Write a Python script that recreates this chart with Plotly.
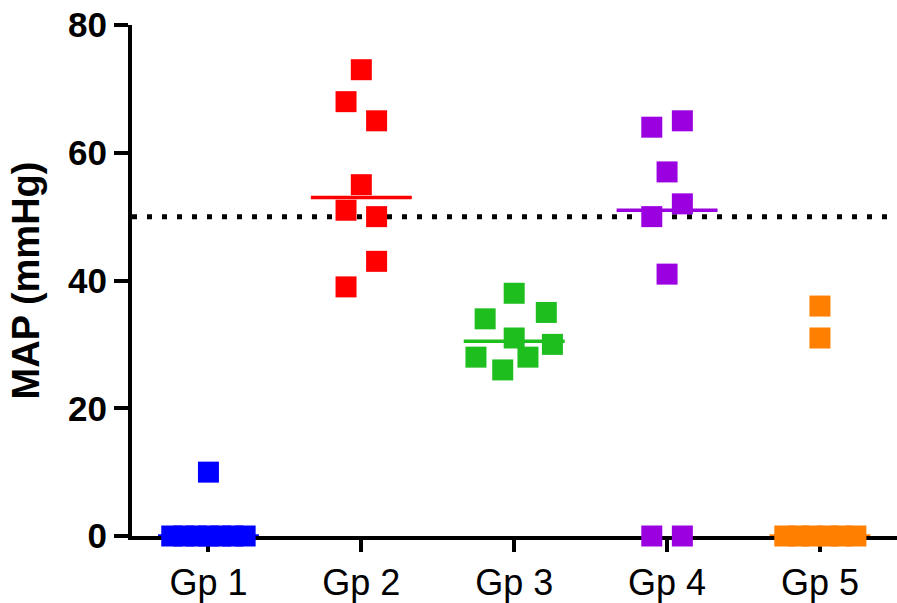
import numpy as np
import plotly.graph_objects as go

groups = ["Gp 1", "Gp 2", "Gp 3", "Gp 4", "Gp 5"]
colors = ["#0000FF", "#FF0000", "#1EBE1E", "#9A00E0", "#FF8000"]

gp1_values = [10, 0, 0, 0, 0, 0, 0, 0]
gp1_offsets = [0.0, -0.24, -0.16, -0.08, 0.0, 0.08, 0.16, 0.24]

gp2_values = [73, 68, 65, 55, 51, 50, 43, 39]
gp2_offsets = [0.0, -0.1, 0.1, 0.0, -0.1, 0.1, 0.1, -0.1]

gp3_values = [38, 34, 35, 31, 30, 28, 28, 26]
gp3_offsets = [0.0, -0.19, 0.21, 0.0, 0.25, -0.25, 0.09, -0.075]

gp4_values = [64, 65, 57, 52, 50, 41, 0, 0]
gp4_offsets = [-0.1, 0.1, 0.0, 0.1, -0.1, 0.0, -0.1, 0.1]

gp5_values = [36, 31, 0, 0, 0, 0, 0, 0]
gp5_offsets = [0.0, 0.0, -0.23, -0.14, -0.05, 0.05, 0.14, 0.235]

threshold = 50
y_ticks = [0, 20, 40, 60, 80]

all_values = [gp1_values, gp2_values, gp3_values, gp4_values, gp5_values]
all_offsets = [gp1_offsets, gp2_offsets, gp3_offsets, gp4_offsets, gp5_offsets]

fig = go.Figure()

# median lines (under the points)
for i, (vals, col) in enumerate(zip(all_values, colors)):
    pos = i + 1
    med = float(np.median(vals))
    fig.add_trace(go.Scatter(
        x=[pos - 0.33, pos + 0.33], y=[med, med], mode="lines",
        line=dict(color=col, width=3.5), showlegend=False,
        hoverinfo="skip", cliponaxis=False))

for i, (vals, offs, col) in enumerate(zip(all_values, all_offsets, colors)):
    pos = i + 1
    fig.add_trace(go.Scatter(
        x=[pos + o for o in offs], y=vals, mode="markers",
        marker=dict(symbol="square", size=21, color=col, line=dict(width=0)),
        showlegend=False, cliponaxis=False, name=groups[i]))

fig.add_shape(type="line", xref="paper", yref="y", x0=0, x1=1,
              y0=threshold, y1=threshold, layer="below",
              line=dict(color="black", width=5, dash="5px,10px"))

fig.update_layout(
    width=897, height=603,
    margin=dict(l=132, r=0, t=25, b=67),
    plot_bgcolor="white", paper_bgcolor="white",
    font=dict(family="Liberation Sans, Arial, sans-serif", color="black"),
    xaxis=dict(range=[0.5, 5.504], tickvals=[1, 2, 3, 4, 5], ticktext=groups,
               showgrid=False, zeroline=False, showline=True,
               linecolor="black", linewidth=4, ticks="outside",
               ticklen=12, tickwidth=4, tickcolor="black",
               tickfont=dict(size=36), layer="below traces",
               automargin=False),
    yaxis=dict(range=[0, 80], tickvals=y_ticks,
               ticktext=["<b>%d</b>" % v for v in y_ticks], showgrid=False,
               zeroline=False, showline=True, linecolor="black",
               linewidth=4, ticks="outside", ticklen=14, tickwidth=4,
               tickcolor="black", tickfont=dict(size=35),
               layer="below traces", automargin=False,
               title=dict(text="<b>MAP (mmHg)</b>",
                          font=dict(size=38), standoff=18)),
)

fig.write_html(
    "out.html",
    config={"displayModeBar": False},
    post_script="document.body.style.margin='0';"
                "document.body.style.padding='0';"
                "document.body.style.overflow='hidden';")
